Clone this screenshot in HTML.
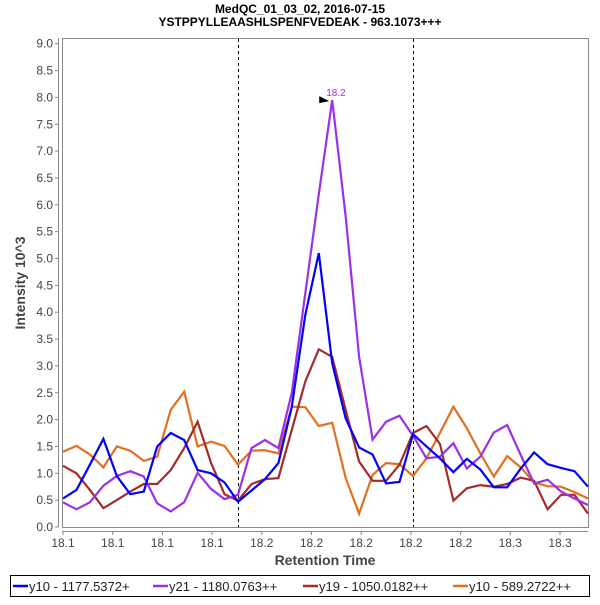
<!DOCTYPE html>
<html><head><meta charset="utf-8"><style>
body{margin:0;background:#fff;}
svg text{font-family:"Liberation Sans","DejaVu Sans",sans-serif;}
</style></head><body>
<svg id="chart" width="600" height="600" viewBox="0 0 600 600" xmlns="http://www.w3.org/2000/svg">
<rect x="0" y="0" width="600" height="600" fill="#fff"/>
<text x="300" y="13" text-anchor="middle" font-size="12" font-weight="bold" fill="#000">MedQC_01_03_02, 2016-07-15</text>
<text x="300" y="26" text-anchor="middle" font-size="12" font-weight="bold" fill="#000">YSTPPYLLEAASHLSPENFVEDEAK - 963.1073+++</text>
<rect x="62.5" y="38.5" width="526" height="489" fill="#fff" stroke="#888" stroke-width="1"/>
<g id="grid"></g><g id="series"></g><g id="axes"></g>
<text x="325" y="565" text-anchor="middle" font-size="14" font-weight="bold" fill="#444">Retention Time</text>
<text transform="translate(25,283) rotate(-90)" text-anchor="middle" font-size="14" font-weight="bold" fill="#444">Intensity 10^3</text>
<g>
<rect x="10.5" y="575.5" width="579" height="21" fill="#fff" stroke="#000"/>
<line x1="13" y1="586" x2="28" y2="586" stroke="#0000ff" stroke-width="2.5"/>
<text x="29" y="591" font-size="13" fill="#222">y10 - 1177.5372+</text>
<line x1="153" y1="586" x2="168" y2="586" stroke="#9b30e8" stroke-width="2.5"/>
<text x="169" y="591" font-size="13" fill="#222">y21 - 1180.0763++</text>
<line x1="303" y1="586" x2="318" y2="586" stroke="#a52a2a" stroke-width="2.5"/>
<text x="319" y="591" font-size="13" fill="#222">y19 - 1050.0182++</text>
<line x1="453" y1="586" x2="468" y2="586" stroke="#e07020" stroke-width="2.5"/>
<text x="469" y="591" font-size="13" fill="#222">y10 - 589.2722++</text>
</g>
</svg>
<script>
const t0 = 18.08, dt = 0.005417;
const blue = [0.53,0.69,1.16,1.64,0.95,0.61,0.66,1.50,1.75,1.62,1.06,1.0,0.83,0.47,0.68,0.89,1.19,2.24,3.95,5.10,3.05,2.02,1.48,1.35,0.81,0.84,1.73,1.50,1.28,1.02,1.27,1.07,0.74,0.74,1.09,1.39,1.17,1.10,1.04,0.75];
const purple = [0.46,0.33,0.46,0.77,0.95,1.04,0.94,0.44,0.29,0.46,1.01,0.71,0.52,0.6,1.47,1.62,1.47,2.5,4.35,6.2,7.95,5.78,3.17,1.63,1.96,2.07,1.7,1.28,1.31,1.56,1.09,1.31,1.76,1.9,1.34,0.81,0.88,0.66,0.53,0.41];
const darkred = [1.14,1.0,0.69,0.35,0.5,0.66,0.8,0.8,1.06,1.47,1.96,1.19,0.61,0.49,0.8,0.89,0.91,1.81,2.71,3.31,3.17,2.18,1.22,0.86,0.86,1.16,1.75,1.88,1.55,0.49,0.72,0.78,0.75,0.8,0.92,0.86,0.33,0.6,0.6,0.25];
const orange = [1.4,1.51,1.35,1.11,1.5,1.42,1.23,1.31,2.18,2.52,1.5,1.59,1.51,1.16,1.42,1.43,1.37,2.24,2.23,1.88,1.94,0.91,0.25,0.97,1.19,1.17,0.95,1.28,1.75,2.24,1.84,1.37,0.94,1.32,1.11,0.83,0.76,0.75,0.65,0.53];
const xTicks = [18.08,18.10,18.12,18.14,18.16,18.18,18.20,18.22,18.24,18.26,18.28];
const yTicks = [0,0.5,1,1.5,2,2.5,3,3.5,4,4.5,5,5.5,6,6.5,7,7.5,8,8.5,9];
const boundaries = [18.1504, 18.2208];

const NS = "http://www.w3.org/2000/svg";
const X0 = 63, PXPER = 49.7/0.02, Y0 = 527, YPER = 53.7;
const xs = t => X0 + (t - t0) * PXPER;
const ys = v => Y0 - v * YPER;
function mk(tag, attrs, parent){ const e=document.createElementNS(NS,tag); for(const k in attrs) e.setAttribute(k,attrs[k]); parent.appendChild(e); return e; }
const axes = document.getElementById('axes'), grid = document.getElementById('grid'), ser = document.getElementById('series');

mk('line',{x1:58.5,y1:38,x2:58.5,y2:527,stroke:'#888'},axes);
yTicks.forEach(v=>{
  mk('line',{x1:55,y1:ys(v),x2:58.5,y2:ys(v),stroke:'#888'},axes);
  const t=mk('text',{x:53,y:ys(v)+4,'text-anchor':'end','font-size':12,fill:'#444'},axes);
  t.textContent=v.toFixed(1);
  
  
});
mk('line',{x1:62,y1:531.5,x2:588,y2:531.5,stroke:'#888'},axes);
xTicks.forEach(v=>{
  mk('line',{x1:xs(v),y1:531.5,x2:xs(v),y2:535,stroke:'#888'},axes);
  const t=mk('text',{x:xs(v),y:547,'text-anchor':'middle','font-size':12,fill:'#444'},axes);
  t.textContent=v.toFixed(1);
  
  
});
boundaries.forEach(b=>{
  const l=mk('line',{x1:Math.round(xs(b))+0.5,y1:39,x2:Math.round(xs(b))+0.5,y2:527,stroke:'#000','stroke-dasharray':'3,3'},grid);
  
  
});
function drawLine(arr,color,name){
  const pts=arr.map((v,i)=>xs(t0+i*dt).toFixed(1)+','+ys(v).toFixed(1)).join(' ');
  const p=mk('polyline',{points:pts,fill:'none',stroke:color,'stroke-width':2.2,'stroke-linejoin':'miter'},ser);
  
  
}
drawLine(orange,'#e07020','series-y10-589');
drawLine(darkred,'#a52a2a','series-y19');
drawLine(purple,'#9b30e8','series-y21');
drawLine(blue,'#0000ff','series-y10-1177');
// peak annotation
let pi=0; purple.forEach((v,i)=>{ if(v>purple[pi]) pi=i; });
const px=xs(t0+pi*dt), py=ys(purple[pi]);
const arrow=mk('polygon',{points:`${px-13},${py-4} ${px-3},${py+1} ${px-13},${py+3}`,fill:'#000'},ser);


const lbl=mk('text',{x:px-6,y:py-4,'font-size':10,fill:'#9b30e8'},ser);
lbl.textContent=(t0+pi*dt).toFixed(1);


</script>
</body></html>
